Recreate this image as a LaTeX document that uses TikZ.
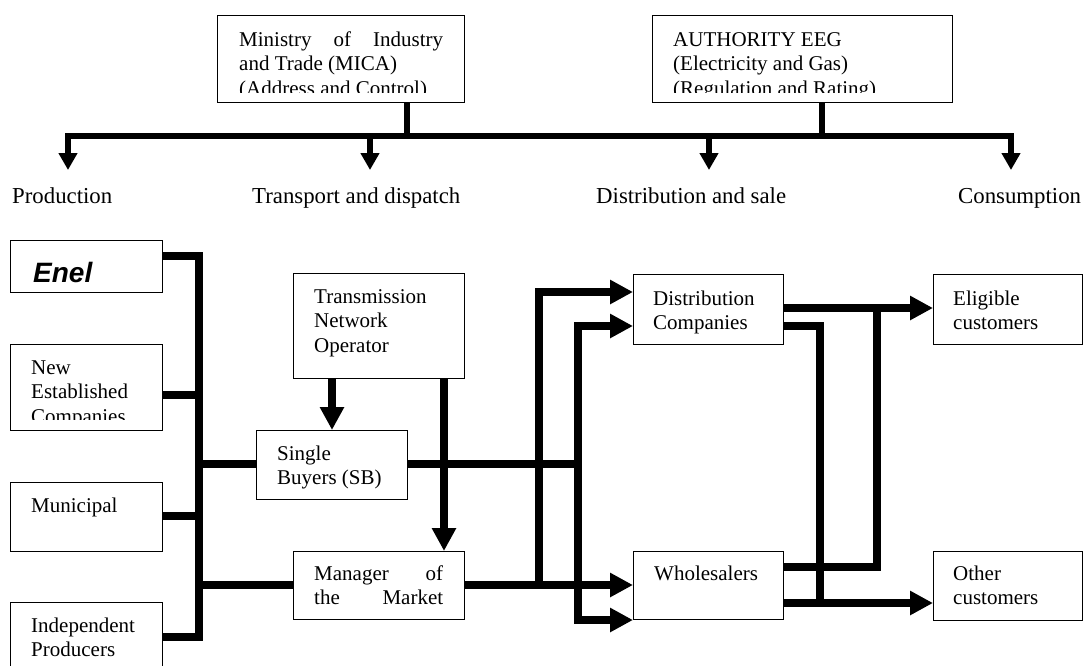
\documentclass[tikz,border=0pt]{standalone}
\usepackage{fontspec}
\setmainfont{Liberation Serif}
\newfontfamily\enelfont{Liberation Sans}
\usetikzlibrary{arrows.meta}
\newcommand\bxf{\fontsize{21}{24.5}\selectfont}
\newcommand\lbf{\fontsize{22.8}{26}\selectfont}
\begin{document}
\begin{tikzpicture}[x=1pt,y=-1pt,
  box/.style={draw, line width=1.2pt, inner sep=0pt, anchor=north west},
  txt/.style={inner sep=0pt, anchor=base west},
  lab/.style={inner sep=0pt, anchor=base west, font=\lbf},
  conn/.style={line width=7.5pt},
  carr/.style={conn, -{Triangle[length=23pt,width=23pt]}},
  tline/.style={line width=5.5pt},
  tarr/.style={tline, -{Triangle[length=17pt,width=18pt]}}]
\clip (0,0) rectangle (1086,665);
\fill[white] (0,0) rectangle (1086,665);
% ---- top boxes
\node[box, minimum width=247pt, minimum height=87pt] (min) at (217,15) {};
\node[box, minimum width=300pt, minimum height=87pt] (auth) at (652,15) {};
\begin{scope}
\clip (218,16) rectangle (463,92);
\node[txt] (mint) at (239,46) {\parbox[t]{204pt}{\bxf\makebox[204pt][s]{Ministry of Industry}\\and Trade (MICA)\\(Address and Control)}};
\end{scope}
\begin{scope}
\clip (653,16) rectangle (951,92);
\node[txt] (autht) at (673,46) {\parbox[t]{260pt}{\bxf AUTHORITY EEG\\(Electricity and Gas)\\(Regulation and Rating)}};
\end{scope}
% ---- top bus
\coordinate (ms) at (407,136);
\coordinate (as) at (822,136);
\coordinate (tb1) at (68,136);
\coordinate (tb2) at (370,136);
\coordinate (tb3) at (709,136);
\coordinate (tb4) at (1011,136);
\coordinate (ta1) at (68,170);
\coordinate (ta2) at (370,170);
\coordinate (ta3) at (709,170);
\coordinate (ta4) at (1011,170);
\draw[tline] (min.south -| ms) -- (ms);
\draw[tline] (auth.south -| as) -- (as);
\draw[tline, {Triangle[length=17pt,width=18pt]}-{Triangle[length=17pt,width=18pt]}] (ta1) -- (tb1) -- (tb4) -- (ta4);
\draw[tarr] (tb2) -- (ta2);
\draw[tarr] (tb3) -- (ta3);
% ---- stage labels
\node[lab] (lprod) at (12,203) {Production};
\node[lab] (ltran) at (252,203) {Transport and dispatch};
\node[lab] (ldist) at (596,203) {Distribution and sale};
\node[lab] (lcons) at (958,203) {Consumption};
% ---- producers
\node[box, minimum width=152pt, minimum height=52pt] (enel) at (10,240) {};
\node[box, minimum width=152pt, minimum height=86pt] (newest) at (10,344) {};
\node[box, minimum width=152pt, minimum height=69pt] (munic) at (10,482) {};
\node[box, minimum width=152pt, minimum height=90pt] (indep) at (10,602) {};
\node[txt] (enelt) at (33,282) {\enelfont\bfseries\itshape\fontsize{28}{30}\selectfont Enel};
\begin{scope}
\clip (11,345) rectangle (161,419);
\node[txt] (newestt) at (31,374) {\parbox[t]{128pt}{\bxf New\\Established\\Companies}};
\end{scope}
\node[txt] (munict) at (31,512) {\parbox[t]{128pt}{\bxf Municipal}};
\node[txt] (indept) at (31,632) {\parbox[t]{128pt}{\bxf Independent\\Producers}};
% ---- middle boxes
\node[box, minimum width=171pt, minimum height=105pt] (tno) at (293,273) {};
\node[box, minimum width=151pt, minimum height=69pt] (sb) at (256,430) {};
\node[box, minimum width=171pt, minimum height=68pt] (mgr) at (293,551) {};
\node[txt] (tnot) at (314,303) {\parbox[t]{145pt}{\bxf Transmission\\Network\\Operator}};
\node[txt] (sbt) at (277,460) {\parbox[t]{125pt}{\bxf Single\\Buyers (SB)}};
\node[txt] (mgrt) at (314,580) {\parbox[t]{129pt}{\bxf\makebox[129pt][s]{Manager of}\\\makebox[129pt][s]{the Market}}};
% ---- distribution / consumers
\node[box, minimum width=150pt, minimum height=70pt] (dc) at (633,274) {};
\node[box, minimum width=150pt, minimum height=68pt] (wh) at (633,551) {};
\node[box, minimum width=149pt, minimum height=70pt] (elig) at (933,274) {};
\node[box, minimum width=149pt, minimum height=69pt] (other) at (933,551) {};
\node[txt] (dct) at (653,305) {\parbox[t]{125pt}{\bxf Distribution\\Companies}};
\node[txt] (wht) at (654,580) {\parbox[t]{125pt}{\bxf Wholesalers}};
\node[txt] (eligt) at (953,305) {\parbox[t]{125pt}{\bxf Eligible\\customers}};
\node[txt] (othert) at (953,580) {\parbox[t]{125pt}{\bxf Other\\customers}};
% ---- production bus
\coordinate (pbT) at (199,256);
\coordinate (pbB) at (199,637);
\coordinate (pbN) at (199,395);
\coordinate (pbM) at (199,516);
\coordinate (pbS) at (199,464);
\coordinate (pbG) at (199,585);
\draw[conn] (enel.east |- pbT) -- (pbT) -- (pbB) -- (indep.east |- pbB);
\draw[conn] (newest.east |- pbN) -- (pbN);
\draw[conn] (munic.east |- pbM) -- (pbM);
\draw[conn] (pbS) -- (sb.west |- pbS);
\draw[conn] (pbG) -- (mgr.west |- pbG);
% ---- TNO arrows
\coordinate (t1) at (332,0);
\coordinate (t2) at (444,0);
\draw[carr] (tno.south -| t1) -- (sb.north -| t1);
\draw[carr] (tno.south -| t2) -- (mgr.north -| t2);
% ---- buses to distribution
\coordinate (b2S) at (578,464);
\coordinate (b2T) at (578,326);
\coordinate (b2B) at (578,620);
\coordinate (b1B) at (539,585);
\coordinate (b1T) at (539,292);
\draw[conn] (sb.east |- b2S) -- (b2S);
\draw[conn, {Triangle[length=23pt,width=23pt]}-{Triangle[length=23pt,width=23pt]}] (dc.west |- b2T) -- (b2T) -- (b2B) -- (wh.west |- b2B);
\draw[carr] (mgr.east |- b1B) -- (wh.west |- b1B);
\draw[carr] (b1B) -- (b1T) -- (dc.west |- b1T);
% ---- outputs to customers
\coordinate (e1) at (877,308);
\coordinate (e1b) at (877,567);
\coordinate (o1) at (820,326);
\coordinate (o1b) at (820,603);
\draw[carr] (dc.east |- e1) -- (elig.west |- e1);
\draw[conn] (e1) -- (e1b) -- (wh.east |- e1b);
\draw[conn] (dc.east |- o1) -- (o1) -- (o1b);
\draw[carr] (wh.east |- o1b) -- (other.west |- o1b);
\end{tikzpicture}
\end{document}
